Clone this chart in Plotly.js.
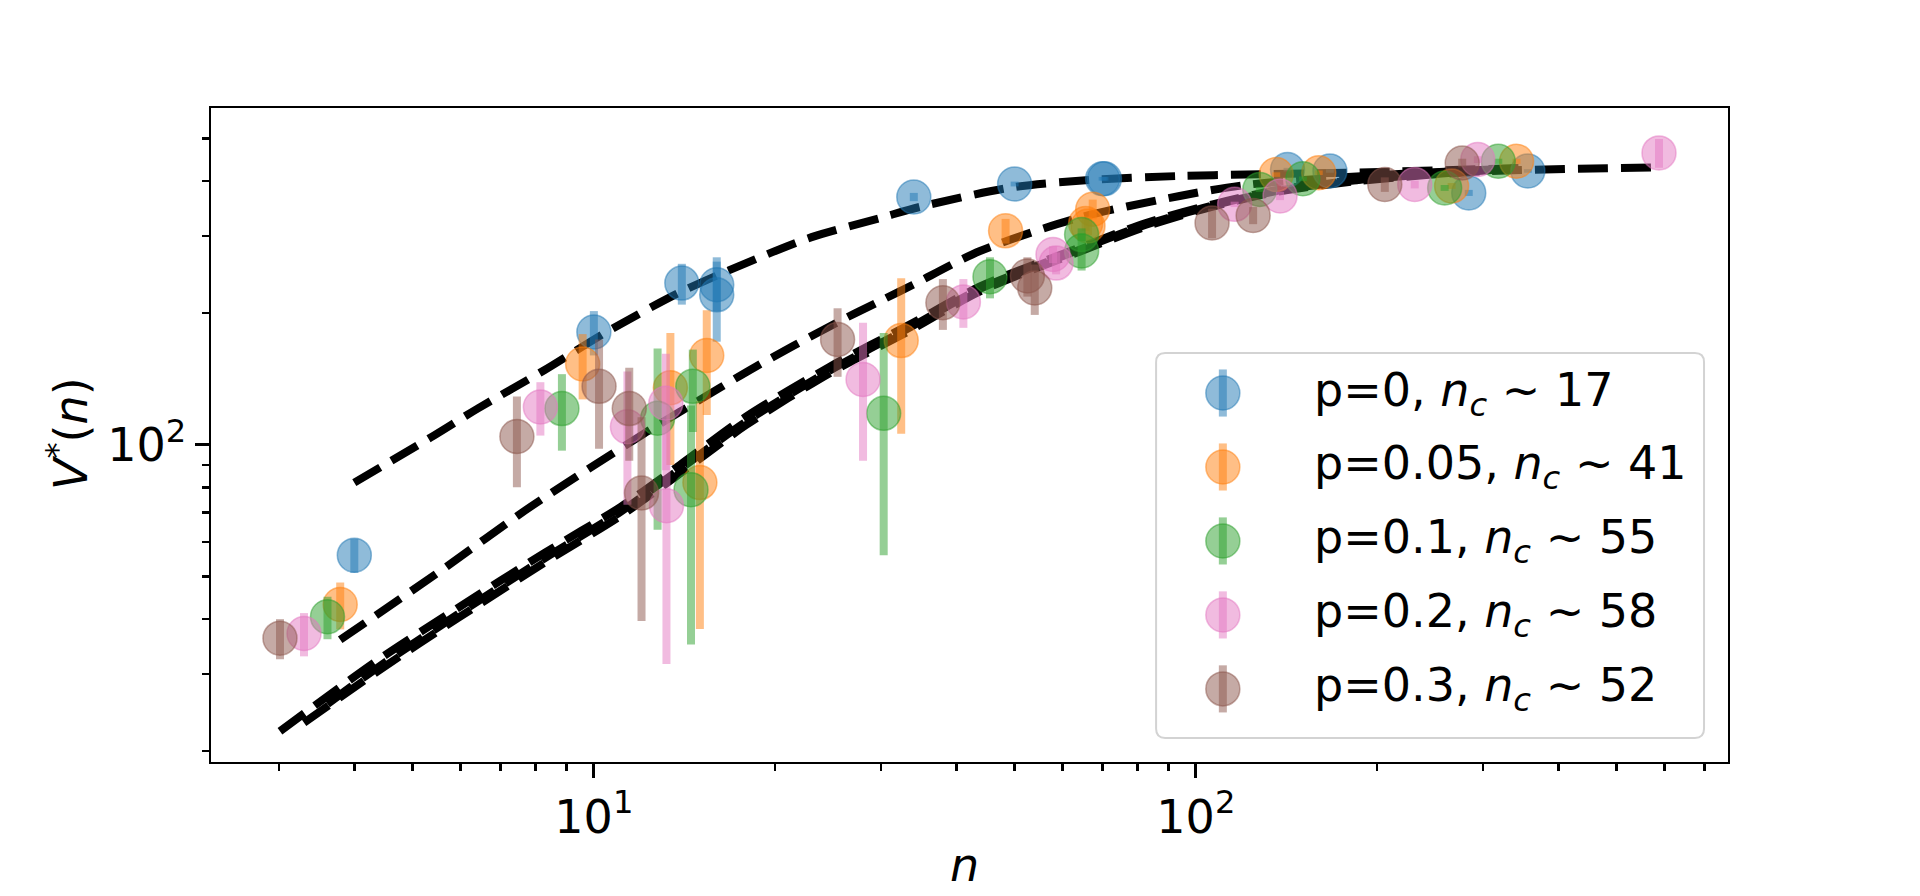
<!DOCTYPE html>
<html>
<head>
<meta charset="utf-8">
<script src="https://cdn.plot.ly/plotly-3.0.1.min.js"></script>
<style>
  html, body { margin: 0; padding: 0; background: #fff; }
  #graph { width: 1920px; height: 896px; }
</style>
</head>
<body>
<div id="graph"></div>
<script>
const labels = ['p=0', 'p=0.05', 'p=0.1', 'p=0.2', 'p=0.3'];
const ncValues = [17, 41, 55, 58, 52];
const colors = [[31,119,180], [255,127,14], [44,160,44], [227,119,194], [140,86,75]];

// measured V*(n) with error bars, one block per p
const nP0  = [4.0, 10.0, 14.0, 16.0, 16.0, 34.0, 50.0, 70.0, 70.5, 142, 167, 284, 356];
const vP0  = [56, 181, 234, 232, 220, 368, 394, 405, 405, 425, 422, 376, 422];
const eP0  = [5, 21, 25, 30, 48, 8, 5, 4, 4, 4, 4, 6, 4];

const nP05 = [3.79, 9.58, 13.4, 15.0, 15.4, 32.4, 48.3, 65.6, 66.2, 67.4, 136, 160, 266, 341];
const vP05 = [43.2, 153, 135, 82, 160, 173, 308, 320, 316, 345, 414, 418, 390, 444];
const eP05 = [5.3, 26, 45, 44, 43, 67, 20, 12, 15, 18, 5, 5, 6, 6];

const nP1  = [3.61, 8.85, 12.76, 14.5, 14.6, 30.3, 45.5, 64.6, 64.6, 127.7, 150.6, 259, 318];
const vP1  = [40.5, 121, 115, 79, 136, 118, 242, 302, 277, 383, 405, 386, 444];
const eP1  = [4.5, 24, 51, 44, 29, 62, 26, 10, 27, 5, 5, 6, 6];

const nP2  = [3.30, 8.15, 11.37, 13.17, 13.2, 28.0, 41.1, 57.9, 58.6, 116, 138, 231, 294, 588];
const vP2  = [37.1, 122, 110, 124.5, 72.6, 141, 212, 272, 260, 354, 370, 393, 448, 464];
const eP2  = [4.2, 17, 37, 37, 41, 49, 27, 12, 15, 5, 8, 8, 8, 35];

const nP3  = [3.01, 7.45, 10.2, 11.45, 12.0, 25.4, 38.0, 52.5, 54.0, 106.4, 124.5, 206, 277];
const vP3  = [36.2, 104.5, 136, 121, 77.6, 174, 211, 243, 228, 321, 334, 393, 440];
const eP3  = [3.8, 24.5, 38, 29, 38, 31, 28, 25, 30, 25, 15, 15, 10];

// fitted curves (dashed)
const fitN0  = [4.0, 5.36, 6.41, 8.27, 10.5, 13.9, 17.9, 23, 30, 35, 50, 68, 94, 121, 178, 356];
const fitV0  = [82, 104, 121, 148, 181, 223, 260, 298, 330, 350, 388, 403, 411, 414, 418, 429];
const fitN05 = [3.79, 5.5, 7.86, 12.1, 13.9, 18.6, 25.3, 29.9, 33.9, 43.8, 64, 94, 121, 185, 341];
const fitV05 = [35.9, 51, 72.3, 106, 119, 151, 190, 213, 232, 277, 330, 370, 392, 410, 428];
const fitN1  = [3.61, 4.37, 5.94, 8.27, 11.1, 13.9, 17.9, 24.7, 33.9, 43.8, 64.1, 82.6, 106.7, 138, 185, 318];
const fitV1  = [25.6, 31.0, 41.0, 55.0, 70.5, 88, 113, 148, 187, 227, 279, 318, 352, 381, 402, 425];
const fitN2  = [3.30, 4.37, 5.94, 8.27, 11.1, 13.9, 17.9, 24.7, 33.9, 43.8, 64.1, 82.6, 106.7, 138, 185, 300, 588];
const fitV2  = [23.2, 30.4, 40.2, 53.8, 69, 86, 111, 146, 184, 224, 276, 315, 350, 379, 400, 421, 430];
const fitN3  = [3.01, 4.37, 5.94, 8.27, 11.1, 13.9, 17.9, 24.7, 33.9, 43.8, 64.1, 82.6, 106.7, 138, 185, 277];
const fitV3  = [22.2, 32.2, 42.4, 56.6, 72.3, 90, 116, 151, 190, 230, 282, 321, 354, 383, 403, 423];

const xMajor = [10, 100];
const xMajorText = ['10<sup>1</sup>', '10<sup>2</sup>'];
const xMinor = [3, 4, 5, 6, 7, 8, 9, 20, 30, 40, 50, 60, 70, 80, 90, 200, 300, 400, 500, 600, 700];
const yMajor = [100];
const yMajorText = ['10<sup>2</sup>'];
const yMinor = [20, 30, 40, 50, 60, 70, 80, 90, 200, 300, 400, 500];

const seriesN = [nP0, nP05, nP1, nP2, nP3];
const seriesV = [vP0, vP05, vP1, vP2, vP3];
const seriesE = [eP0, eP05, eP1, eP2, eP3];
const fitN = [fitN0, fitN05, fitN1, fitN2, fitN3];
const fitV = [fitV0, fitV05, fitV1, fitV2, fitV3];

const FONT = 'DejaVu Sans, sans-serif';
const FS = 46;

function rgba(c, a) { return 'rgba(' + c.join(',') + ',' + a + ')'; }

const traces = [];

// dashed fits go first so the translucent markers sit over them
for (let i = 0; i < fitN.length; i++) {
  traces.push({
    x: fitN[i], y: fitV[i],
    mode: 'lines',
    line: {color: 'black', width: 8, dash: '30px,13px', shape: 'spline', smoothing: 0.8},
    showlegend: false, hoverinfo: 'skip'
  });
}

for (let i = 0; i < seriesN.length; i++) {
  traces.push({
    x: seriesN[i], y: seriesV[i],
    mode: 'markers',
    name: labels[i],
    marker: {size: 34, color: rgba(colors[i], 0.5), line: {color: rgba(colors[i], 0.5), width: 1.5}},
    error_y: {type: 'data', array: seriesE[i], visible: true, color: rgba(colors[i], 0.5), thickness: 8, width: 0},
    showlegend: false, hoverinfo: 'skip'
  });
}

// hand-built legend (plotly caps legend marker size)
const legX = 0.667, legTextX = 0.7258, legTop = 0.5642, legStep = 0.1131;
const annotations = [];
for (let i = 0; i < labels.length; i++) {
  const y = legTop - i * legStep;
  traces.push({
    x: [legX], y: [y], xaxis: 'x2', yaxis: 'y2',
    mode: 'markers',
    marker: {size: 34, color: rgba(colors[i], 0.5), line: {color: rgba(colors[i], 0.5), width: 1.5}},
    error_y: {type: 'constant', value: 0.036, visible: true, color: rgba(colors[i], 0.5), thickness: 8, width: 0},
    showlegend: false, hoverinfo: 'skip'
  });
  annotations.push({
    xref: 'paper', yref: 'paper', x: legTextX, y: y,
    xanchor: 'left', yanchor: 'middle', showarrow: false,
    text: labels[i] + ', <i>n</i><sub><i>c</i></sub> \u223C ' + ncValues[i],
    font: {family: FONT, size: FS, color: 'black'}
  });
}

annotations.push({
  xref: 'paper', yref: 'paper', x: 0.497, y: -0.1575,
  xanchor: 'center', yanchor: 'middle', showarrow: false,
  text: '<i>n</i>', font: {family: FONT, size: FS, color: 'black'}
});
annotations.push({
  xref: 'paper', yref: 'paper', x: -0.0943, y: 0.503,
  xanchor: 'center', yanchor: 'middle', showarrow: false, textangle: -90,
  text: '<i>V</i><sup>*</sup>(<i>n</i>)', font: {family: FONT, size: FS, color: 'black'}
});

function roundRect(x0, y0, x1, y1, rx, ry) {
  return 'M' + (x0 + rx) + ',' + y0 + ' L' + (x1 - rx) + ',' + y0 +
    ' Q' + x1 + ',' + y0 + ' ' + x1 + ',' + (y0 + ry) +
    ' L' + x1 + ',' + (y1 - ry) +
    ' Q' + x1 + ',' + y1 + ' ' + (x1 - rx) + ',' + y1 +
    ' L' + (x0 + rx) + ',' + y1 +
    ' Q' + x0 + ',' + y1 + ' ' + x0 + ',' + (y1 - ry) +
    ' L' + x0 + ',' + (y0 + ry) +
    ' Q' + x0 + ',' + y0 + ' ' + (x0 + rx) + ',' + y0 + ' Z';
}

const axisCommon = {
  type: 'log',
  showgrid: false, zeroline: false,
  showline: true, linecolor: 'black', linewidth: 1.6, mirror: true,
  ticks: 'outside', ticklen: 14, tickwidth: 3, tickcolor: 'black',
  tickfont: {family: FONT, size: FS, color: 'black'},
  tickmode: 'array'
};

const layout = {
  width: 1920, height: 896,
  margin: {l: 211, r: 192, t: 108, b: 134, pad: 0},
  paper_bgcolor: 'white', plot_bgcolor: 'white',
  showlegend: false,
  xaxis: Object.assign({}, axisCommon, {
    range: [0.364, 2.884],
    tickvals: xMajor, ticktext: xMajorText,
    minor: {tickmode: 'array', tickvals: xMinor, ticks: 'outside', ticklen: 7, tickwidth: 2.5, tickcolor: 'black', showgrid: false}
  }),
  yaxis: Object.assign({}, axisCommon, {
    range: [1.276, 2.769],
    tickvals: yMajor, ticktext: yMajorText,
    minor: {tickmode: 'array', tickvals: yMinor, ticks: 'outside', ticklen: 7, tickwidth: 2.5, tickcolor: 'black', showgrid: false}
  }),
  xaxis2: {overlaying: 'x', range: [0, 1], visible: false, anchor: 'y2'},
  yaxis2: {overlaying: 'y', range: [0, 1], visible: false, anchor: 'x2'},
  shapes: [{
    type: 'path', xref: 'paper', yref: 'paper', layer: 'below',
    path: roundRect(0.623, 0.0367, 0.9842, 0.6254, 0.006, 0.014),
    line: {color: '#d3d3d3', width: 2}, fillcolor: 'rgba(255,255,255,0.8)'
  }],
  annotations: annotations
};

Plotly.newPlot('graph', traces, layout, {displayModeBar: false, staticPlot: true});
</script>
</body>
</html>
